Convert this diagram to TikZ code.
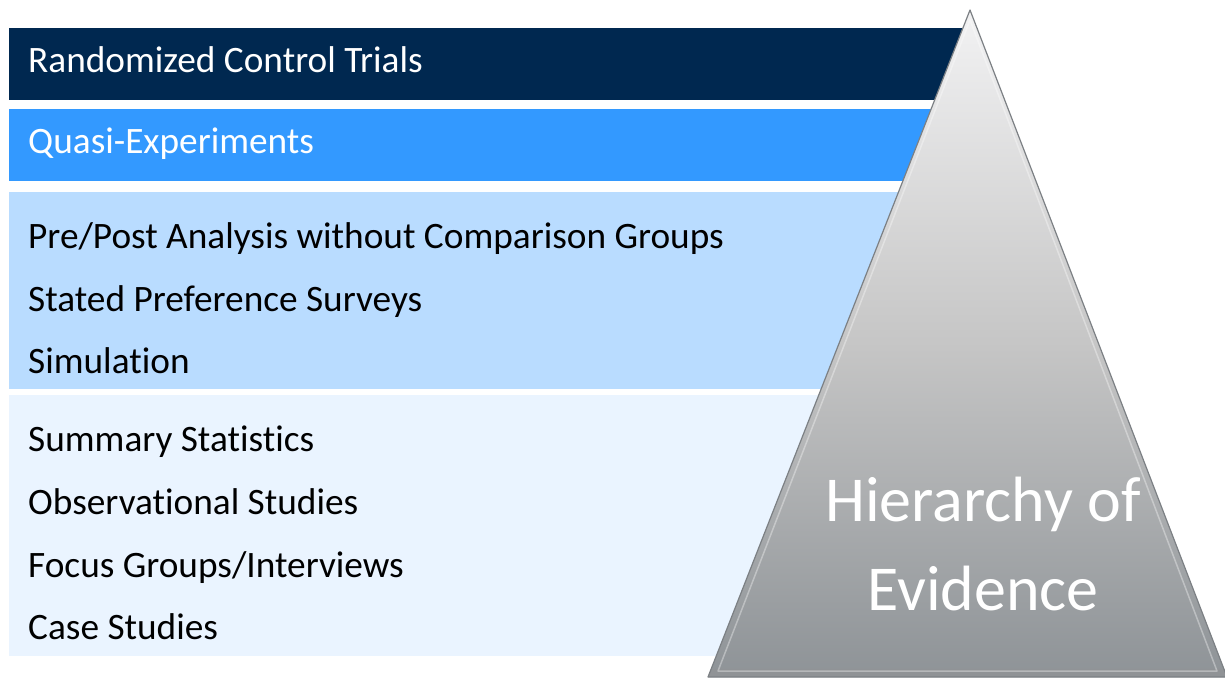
\documentclass[tikz,border=0pt]{standalone}
\usepackage{fontspec}
\setmainfont{Carlito}[Ligatures={NoCommon}]
\usetikzlibrary{calc}
\definecolor{navy}{HTML}{002850}
\definecolor{qblue}{HTML}{3399FF}
\definecolor{lblue}{HTML}{B9DCFF}
\definecolor{xblue}{HTML}{EAF4FF}
\definecolor{tritop}{HTML}{F2F2F3}
\definecolor{tribot}{HTML}{8E9397}
\definecolor{triedge}{HTML}{7C8084}
\tikzset{
  band/.style={draw=none},
  item/.style={anchor=base west, inner sep=0pt, font=\fontsize{37.3}{40}\selectfont},
  title/.style={anchor=base, inner sep=0pt, text=white, font=\fontsize{64}{70}\selectfont}
}
\begin{document}
\begin{tikzpicture}[x=1pt,y=-1pt]
\useasboundingbox (0,0) rectangle (1225,677);
% bands
\fill[band, navy]  (9,28)  rectangle (978,100);
\fill[band, qblue] (9,109) rectangle (978,181);
\fill[band, lblue] (9,192) rectangle (978,389);
\fill[band, xblue] (9,395) rectangle (978,656);
% texts
\node[item, text=white] (rct) at (28,73) {Randomized Control Trials};
\node[item, text=white] (qe) at (28,153) {Quasi-Experiments};
\node[item] (pp) at (28,248) {Pre/Post Analysis without Comparison Groups};
\node[item] (sp) at (28,311) {Stated Preference Surveys};
\node[item] (sim) at (28,373) {Simulation};
\node[item] (ss) at (28,451) {Summary Statistics};
\node[item] (os) at (28,514) {Observational Studies};
\node[item] (fg) at (28,577) {Focus Groups/Interviews};
\node[item] (cs) at (28,639) {Case Studies};
% triangle
\coordinate (apex) at (970,10);
\coordinate (bl) at (708,677);
\coordinate (br) at (1227,677);
\shade[top color=tritop, bottom color=tribot, middle color=gray!45]
  (apex) -- (br) -- (bl) -- cycle;
\fill[triedge!85] (bl) -- (br) -- ($(br)!0.012!(apex)$) -- ($(bl)!0.012!(apex)$) -- cycle;
\draw[triedge, line width=1.2pt, line join=round] (apex) -- (br) -- (bl) -- cycle;
\draw[white, opacity=0.35, line width=1.5pt, line join=round]
  (970,20) -- (1217,671) -- (718,671) -- cycle;
\node[title] (h1) at (983,521) {Hierarchy of};
\node[title] (h2) at (983,610) {Evidence};
\end{tikzpicture}
\end{document}
